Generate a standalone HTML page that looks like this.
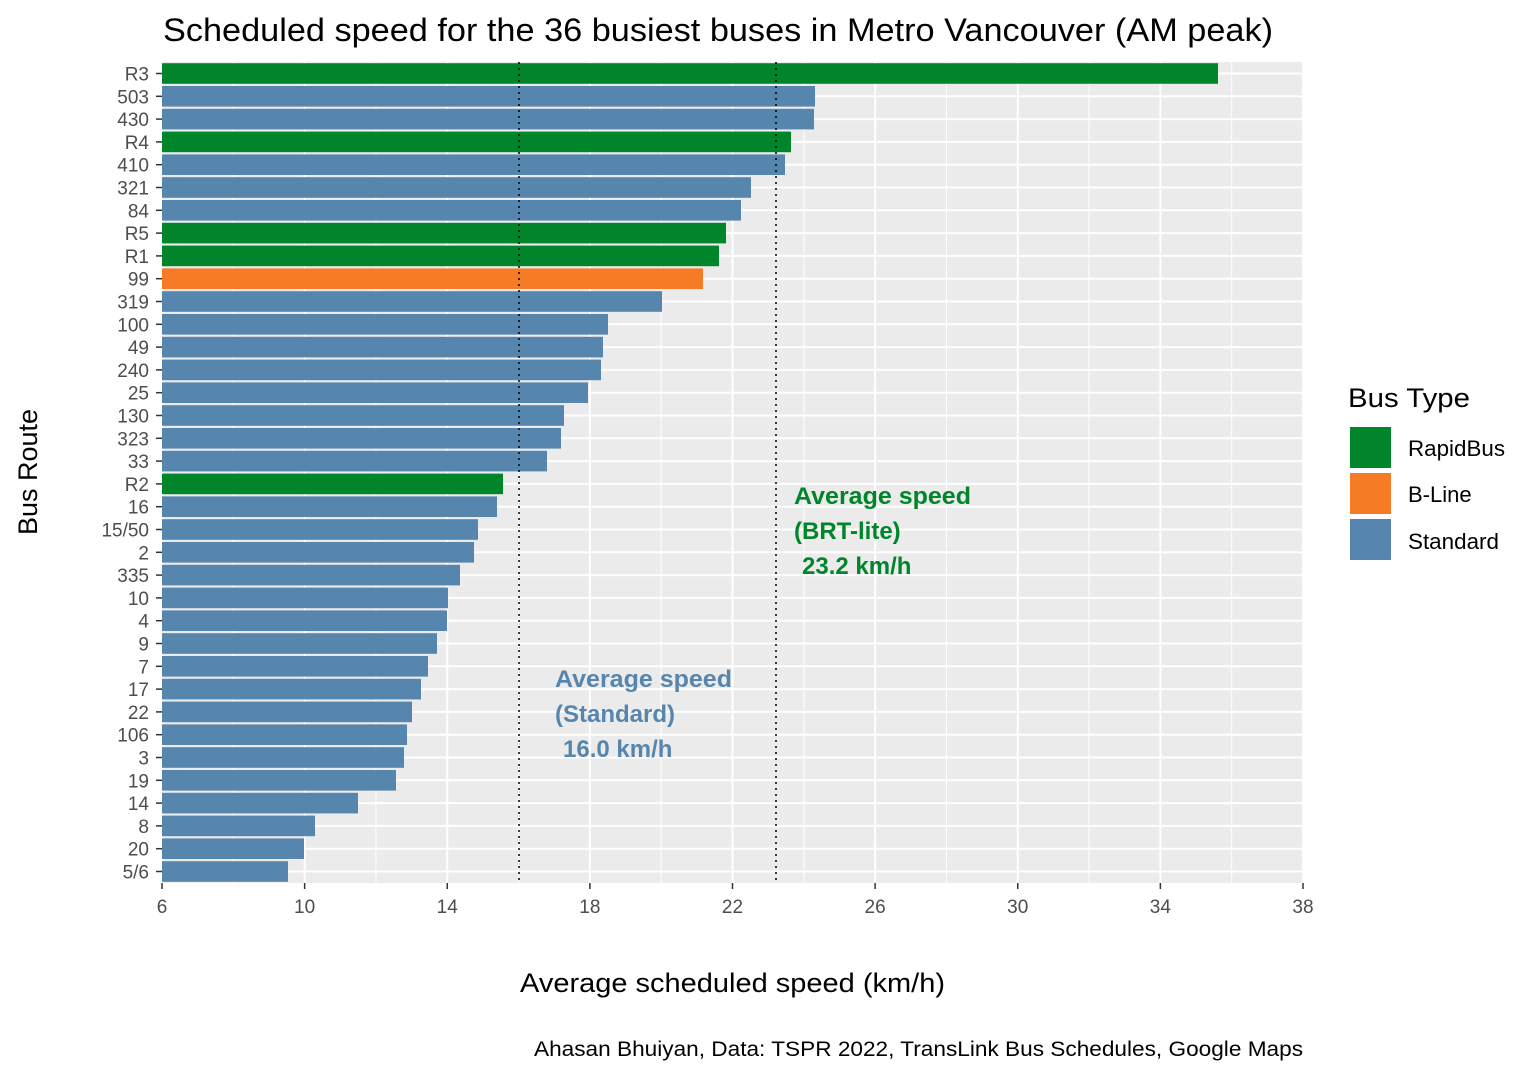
<!DOCTYPE html>
<html><head><meta charset="utf-8"><style>body{margin:0;background:#fff}svg{display:block}</style></head><body>
<svg width="1536" height="1075" xmlns="http://www.w3.org/2000/svg" font-family="Liberation Sans, Arial, sans-serif">
<rect width="1536" height="1075" fill="#fff"/>
<rect x="162" y="62" width="1141" height="821" fill="#EBEBEB"/>
<g id="grid"></g>
<g id="bars"></g>
<line x1="519" y1="62" x2="519" y2="883" stroke="#000" stroke-width="1.5" stroke-dasharray="2,4"/>
<line x1="776" y1="62" x2="776" y2="883" stroke="#000" stroke-width="1.5" stroke-dasharray="2,4"/>
<g id="ylab" font-size="19" fill="#4D4D4D" text-anchor="end"></g>
<g id="xlab" font-size="19" fill="#4D4D4D" text-anchor="middle"></g>
<text x="163" y="41" font-size="32" textLength="1110" lengthAdjust="spacingAndGlyphs" fill="#000">Scheduled speed for the 36 busiest buses in Metro Vancouver (AM peak)</text>
<text x="520" y="992" font-size="27" textLength="425" lengthAdjust="spacingAndGlyphs" fill="#000">Average scheduled speed (km/h)</text>
<text transform="translate(37,472) rotate(-90)" font-size="27" text-anchor="middle" fill="#000">Bus Route</text>
<text x="534" y="1056" font-size="21" textLength="769" lengthAdjust="spacingAndGlyphs" fill="#000">Ahasan Bhuiyan, Data: TSPR 2022, TransLink Bus Schedules, Google Maps</text>
<g font-size="24" font-weight="bold" fill="#00852A">
<text x="794" y="504" textLength="177" lengthAdjust="spacingAndGlyphs">Average speed</text><text x="794" y="539">(BRT-lite)</text><text x="802" y="574">23.2 km/h</text></g>
<g font-size="24" font-weight="bold" fill="#5686AE">
<text x="555" y="687" textLength="177" lengthAdjust="spacingAndGlyphs">Average speed</text><text x="555" y="722">(Standard)</text><text x="563" y="757">16.0 km/h</text></g>
<text x="1348" y="407" font-size="27" textLength="122" lengthAdjust="spacingAndGlyphs" fill="#000">Bus Type</text>
<rect x="1349" y="426" width="43" height="43" fill="#00852A" stroke="#fff" stroke-width="2"/>
<rect x="1349" y="472" width="43" height="43" fill="#F57B25" stroke="#fff" stroke-width="2"/>
<rect x="1349" y="518" width="43" height="43" fill="#5686AE" stroke="#fff" stroke-width="2"/>
<g font-size="22" fill="#000"><text x="1408" y="456" textLength="97" lengthAdjust="spacingAndGlyphs">RapidBus</text><text x="1408" y="502">B-Line</text><text x="1408" y="549" textLength="91" lengthAdjust="spacingAndGlyphs">Standard</text></g>
</svg>
<script>
const ns="http://www.w3.org/2000/svg";
function el(p,t,a,txt){const e=document.createElementNS(ns,t);for(const k in a)e.setAttribute(k,a[k]);if(txt)e.textContent=txt;document.getElementById(p).appendChild(e);}
const data=[["R3",1218,"g"],["503",815],["430",814],["R4",791,"g"],["410",785],["321",751],["84",741],["R5",726,"g"],["R1",719,"g"],["99",703,"o"],["319",662],["100",608],["49",603],["240",601],["25",588],["130",564],["323",561],["33",547],["R2",503,"g"],["16",497],["15/50",478],["2",474],["335",460],["10",448],["4",447],["9",437],["7",428],["17",421],["22",412],["106",407],["3",404],["19",396],["14",358],["8",315],["20",304],["5/6",288]];
const sc=1141/32,y0=73.5,dy=22.8;
for(let v=6;v<=38;v+=2){const x=162+(v-6)*sc;el("grid","line",{x1:x,x2:x,y1:62,y2:883,stroke:"#fff","stroke-width":(v-6)%4==0?2:1});
if((v-6)%4==0){el("xlab","text",{x:x,y:913},String(v));el("grid","line",{x1:x,x2:x,y1:883,y2:889,stroke:"#333","stroke-width":1.5});}}
data.forEach((d,i)=>{const y=y0+i*dy;el("grid","line",{x1:162,x2:1303,y1:y,y2:y,stroke:"#fff","stroke-width":2});
const c=d[2]=="g"?"#00852A":d[2]=="o"?"#F57B25":"#5686AE";
el("bars","rect",{x:162,y:y-10.3,width:d[1]-162,height:20.6,fill:c});
el("ylab","text",{x:149,y:y+7},d[0]);el("grid","line",{x1:156,x2:162,y1:y,y2:y,stroke:"#333","stroke-width":1.5});});
</script>
</body></html>
